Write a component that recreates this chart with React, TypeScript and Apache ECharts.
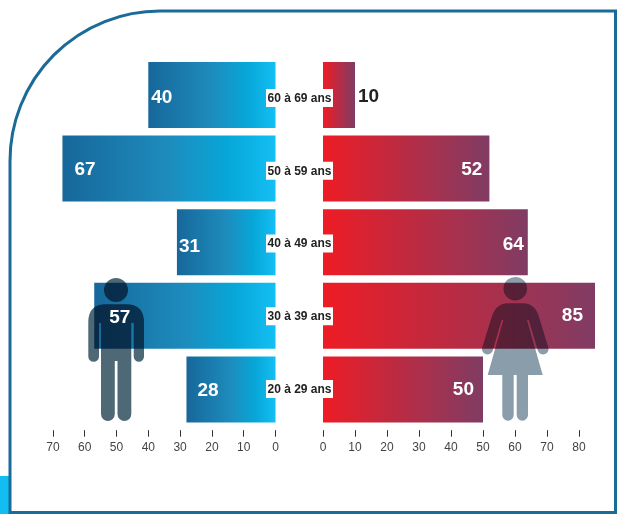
import React, { useEffect, useRef } from "react";
import * as echarts from "echarts";

const ageGroups = ["60 à 69 ans", "50 à 59 ans", "40 à 49 ans", "30 à 39 ans", "20 à 29 ans"];
const menValues = [40, 67, 31, 57, 28];
const womenValues = [10, 52, 64, 85, 50];
const menTicks = [0, 10, 20, 30, 40, 50, 60, 70];
const womenTicks = [0, 10, 20, 30, 40, 50, 60, 70, 80];
const menLabelNudge = [[3, 1], [12, 0], [2, 3], [15, 1], [11, 0]];
const womenLabelNudge = [[3, 0], [-7, 0], [-4, 1], [-12, -1], [-9, -1]];

const MAN_D =
  "M104 290A12 12 0 1 1 128 290A12 12 0 1 1 104 290Z" +
  "M88.3 322Q88.3 304.3 106 304.3L126 304.3Q144 304.3 144 322L144 356.5A5.15 5.15 0 0 1 133.7 356.5L133.7 323L131.3 323L131.3 414A6.9 6.9 0 0 1 117.5 414L117.5 361L114.8 361L114.8 414A6.9 6.9 0 0 1 101 414L101 323L99 323L99 356.5A5.35 5.35 0 0 1 88.3 356.5Z";
const WOMAN_D =
  "M503.5 288.7A11.8 11.8 0 1 1 527.1 288.7A11.8 11.8 0 1 1 503.5 288.7Z" +
  "M491.7 317Q496 303.3 508 303.3L523 303.3Q535 303.3 539 317L548.2 347A5.3 5.3 0 0 1 538 351L528.6 320L527 320L542.7 375L528 375L528 415A5.65 5.65 0 0 1 516.7 415L516.7 375L513.7 375L513.7 415A5.7 5.7 0 0 1 502.3 415L502.3 375L487.7 375L503.3 320L501.7 320L492.6 351A5.3 5.3 0 0 1 482.4 347Z";

echarts.graphic.registerShape("manFigure", echarts.graphic.extendPath(MAN_D, {}) as any);
echarts.graphic.registerShape("womanFigure", echarts.graphic.extendPath(WOMAN_D, {}) as any);

const FONT = "'Liberation Sans', Arial, sans-serif";
const MAN_FILL = "#4f6876";
const WOMAN_FILL = "#8a9dab";

const blue = () =>
  new echarts.graphic.LinearGradient(0, 0, 1, 0, [
    { offset: 0, color: "#17679a" },
    { offset: 0.5, color: "#1d8cbd" },
    { offset: 0.78, color: "#07a7d9" },
    { offset: 1, color: "#14bff3" },
  ]);
const red = () =>
  new echarts.graphic.LinearGradient(0, 0, 1, 0, [
    { offset: 0, color: "#ee1c25" },
    { offset: 1, color: "#803c64" },
  ]);

const valueAxis = (gridIndex: number, max: number, ticks: number[], inverse: boolean) => ({
  type: "value",
  gridIndex,
  min: 0,
  max,
  inverse,
  offset: 4,
  splitLine: { show: false },
  axisLine: { show: false },
  axisTick: { show: true, length: 6.5, customValues: ticks, lineStyle: { color: "#333", width: 1 } },
  axisLabel: { show: true, customValues: ticks, margin: 11, color: "#444", fontFamily: FONT, fontSize: 12 },
});

const hiddenCat = (gridIndex: number) => ({
  type: "category",
  gridIndex,
  data: ageGroups,
  inverse: true,
  show: false,
});

const blendCss = `svg path[fill="${MAN_FILL}"],svg path[fill="${WOMAN_FILL}"]{mix-blend-mode:multiply}`;

export default function App() {
  const ref = useRef<HTMLDivElement>(null);
  useEffect(() => {
    document.body.style.margin = "0";
    const chart = echarts.init(ref.current!, null, { renderer: "svg" });
    const rows = { top: 58.2, height: 368 };
    const labelBase = { show: true, fontFamily: FONT, fontWeight: "bold" as const, fontSize: 19, color: "#fff" };
    chart.setOption({
      animation: false,
      backgroundColor: "#fff",
      grid: [
        { left: 52.9, width: 222.6, ...rows },
        { left: 323, width: 272, ...rows },
        { left: 266, width: 67, top: 61.6, height: 363.75 },
      ],
      xAxis: [
        valueAxis(0, 70, menTicks, true),
        valueAxis(1, 85, womenTicks, false),
        { type: "value", gridIndex: 2, show: false, min: 0, max: 1 },
      ],
      yAxis: [
        hiddenCat(0),
        hiddenCat(1),
        {
          type: "category",
          gridIndex: 2,
          data: ageGroups,
          inverse: true,
          z: 6,
          axisLine: { show: false },
          axisTick: { show: false },
          axisLabel: {
            interval: 0,
            align: "center",
            margin: -33.5,
            width: 67,
            height: 18,
            lineHeight: 18,
            backgroundColor: "#fff",
            color: "#222",
            fontFamily: FONT,
            fontWeight: "bold",
            fontSize: 12,
          },
        },
      ],
      series: [
        {
          type: "bar",
          name: "Hommes",
          xAxisIndex: 0,
          yAxisIndex: 0,
          z: 2,
          barWidth: 66,
          data: menValues,
          itemStyle: { color: blue() },
        },
        {
          type: "bar",
          name: "Femmes",
          xAxisIndex: 1,
          yAxisIndex: 1,
          z: 2,
          barWidth: 66,
          data: womenValues,
          itemStyle: { color: red() },
        },
        {
          type: "bar",
          name: "Hommes (valeurs)",
          xAxisIndex: 0,
          yAxisIndex: 0,
          z: 5,
          barWidth: 66,
          barGap: "-100%",
          itemStyle: { color: "transparent" },
          data: menValues.map((value, i) => ({
            value,
            label: { ...labelBase, position: "insideLeft", distance: 0, offset: menLabelNudge[i] },
          })),
        },
        {
          type: "bar",
          name: "Femmes (valeurs)",
          xAxisIndex: 1,
          yAxisIndex: 1,
          z: 5,
          barWidth: 66,
          barGap: "-100%",
          itemStyle: { color: "transparent" },
          data: womenValues.map((value, i) => ({
            value,
            label: {
              ...labelBase,
              position: value < 20 ? "right" : "insideRight",
              color: value < 20 ? "#222" : "#fff",
              distance: 0,
              offset: womenLabelNudge[i],
            },
          })),
        },
      ],
      graphic: [
        { type: "rect", z: 1, shape: { x: 0, y: 476, width: 9, height: 38 }, style: { fill: "#12bdf2" } },
        {
          type: "rect",
          z: 1,
          shape: { x: 10, y: 11, width: 605.5, height: 501.5, r: [150, 0, 0, 0] },
          style: { fill: "none", stroke: "#1b6b99", lineWidth: 3 },
        },
        { type: "manFigure", z: 3, style: { fill: MAN_FILL } },
        { type: "womanFigure", z: 3, style: { fill: WOMAN_FILL } },
      ],
    });
    return () => chart.dispose();
  }, []);
  return (
    <>
      <style>{blendCss}</style>
      <div ref={ref} style={{ position: "absolute", left: 0, top: 0, width: 620, height: 514 }} />
    </>
  );
}
